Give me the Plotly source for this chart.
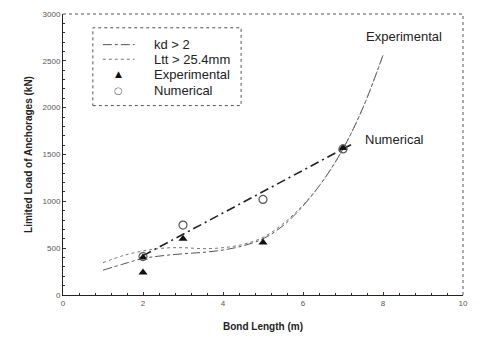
import plotly.graph_objects as go

# Fitted curves
kd_x = [1, 1.5, 2, 2.5, 3, 3.5, 4, 4.5, 5, 5.5, 6, 6.5, 7, 7.5, 8]
kd_y = [265, 330, 390, 420, 440, 455, 480, 525, 600, 740, 950, 1220, 1560, 2000, 2560]

ltt_x = [1, 1.5, 2, 2.5, 3, 3.5, 4, 4.5, 5, 5.5, 6, 6.5, 7, 7.5, 8]
ltt_y = [345, 420, 470, 500, 505, 495, 505, 540, 615, 760, 960, 1220, 1560, 2000, 2560]

num_line_x = [2, 7.2]
num_line_y = [420, 1605]

# Measured points
exp_x = [2, 2, 3, 5, 7]
exp_y = [240, 400, 600, 560, 1570]

num_x = [2, 3, 5, 7]
num_y = [410, 747, 1020, 1560]

legend_labels = ["kd > 2", "Ltt > 25.4mm", "Experimental", "Numerical"]

fig = go.Figure()
fig.add_trace(go.Scatter(x=kd_x, y=kd_y, mode="lines", name=legend_labels[0], showlegend=False,
                         line=dict(color="#555555", width=1, dash="dashdot", shape="spline")))
fig.add_trace(go.Scatter(x=ltt_x, y=ltt_y, mode="lines", name=legend_labels[1], showlegend=False,
                         line=dict(color="#777777", width=1, dash="dot", shape="spline")))
fig.add_trace(go.Scatter(x=num_line_x, y=num_line_y, mode="lines", showlegend=False,
                         line=dict(color="#222222", width=1.6, dash="9px,4px,2px,4px")))
fig.add_trace(go.Scatter(x=exp_x, y=exp_y, mode="markers", name=legend_labels[2], showlegend=False,
                         marker=dict(symbol="triangle-up", size=8, color="#111111")))
fig.add_trace(go.Scatter(x=num_x, y=num_y, mode="markers", name=legend_labels[3], showlegend=False,
                         marker=dict(symbol="circle-open", size=8, color="#555555",
                                     line=dict(width=1.2))))

# Curve labels
fig.add_annotation(x=7.53, y=2758, text="Experimental", showarrow=False, xanchor="left",
                   yanchor="middle", font=dict(family="Arial", size=13, color="#222222"))
fig.add_annotation(x=7.5, y=1663, text="Numerical", showarrow=False, xanchor="left",
                   yanchor="middle", font=dict(family="Arial", size=13, color="#222222"))

# Hand-drawn legend box (paper coordinates of the plot area)
fig.add_shape(type="rect", xref="paper", yref="paper", x0=0.0746, x1=0.4453, y0=0.674, y1=0.951,
              line=dict(color="#555555", width=1, dash="dot"), fillcolor="white", layer="above")
row_y = [0.891, 0.839, 0.786, 0.726]
fig.add_shape(type="line", xref="paper", yref="paper", x0=0.0995, x1=0.179, y0=row_y[0], y1=row_y[0],
              line=dict(color="#555555", width=1, dash="dashdot"), layer="above")
fig.add_shape(type="line", xref="paper", yref="paper", x0=0.0995, x1=0.179, y0=row_y[1], y1=row_y[1],
              line=dict(color="#777777", width=1, dash="dot"), layer="above")
fig.add_annotation(xref="paper", yref="paper", x=0.139, y=row_y[2], text="▲", showarrow=False,
                   xanchor="center", yanchor="middle",
                   font=dict(family="DejaVu Sans", size=9, color="#111111"))
fig.add_annotation(xref="paper", yref="paper", x=0.139, y=row_y[3], text="○", showarrow=False,
                   xanchor="center", yanchor="middle",
                   font=dict(family="DejaVu Sans", size=10, color="#666666"))
for lab, yy in zip(legend_labels, row_y):
    fig.add_annotation(xref="paper", yref="paper", x=0.2214, y=yy, text=lab, showarrow=False,
                       xanchor="left", yanchor="middle",
                       font=dict(family="Arial", size=13, color="#222222"))

# Dotted top and right frame
fig.add_shape(type="line", xref="paper", yref="paper", x0=0, x1=1, y0=1, y1=1,
              line=dict(color="#555555", width=1, dash="dot"))
fig.add_shape(type="line", xref="paper", yref="paper", x0=1, x1=1, y0=0, y1=1,
              line=dict(color="#555555", width=1, dash="dot"))

axis_common = dict(showgrid=False, zeroline=False, showline=True, linecolor="#222222",
                   linewidth=1, mirror=False, ticks="inside", ticklen=3, tickcolor="#333333",
                   tickfont=dict(family="Arial", size=8, color="#555555"))

fig.update_xaxes(range=[0, 10], tickvals=[0, 2, 4, 6, 8, 10],
                 minor=dict(dtick=0.4, ticks="inside", ticklen=2, tickcolor="#333333"),
                 title=dict(text="<b>Bond Length (m)</b>", font=dict(family="Arial", size=10, color="#222222"),
                            standoff=16),
                 **axis_common)
fig.update_yaxes(range=[0, 3000], tickvals=[0, 500, 1000, 1500, 2000, 2500, 3000],
                 minor=dict(dtick=100, ticks="inside", ticklen=2, tickcolor="#333333"),
                 title=dict(text="<b>Limited Load of Anchorages (kN)</b>",
                            font=dict(family="Arial", size=10, color="#222222"), standoff=8),
                 **axis_common)

fig.update_layout(
    width=478, height=345,
    margin=dict(l=63, r=13, t=10, b=50),
    paper_bgcolor="white", plot_bgcolor="white",
    showlegend=False,
)

fig.write_html("out.html")
